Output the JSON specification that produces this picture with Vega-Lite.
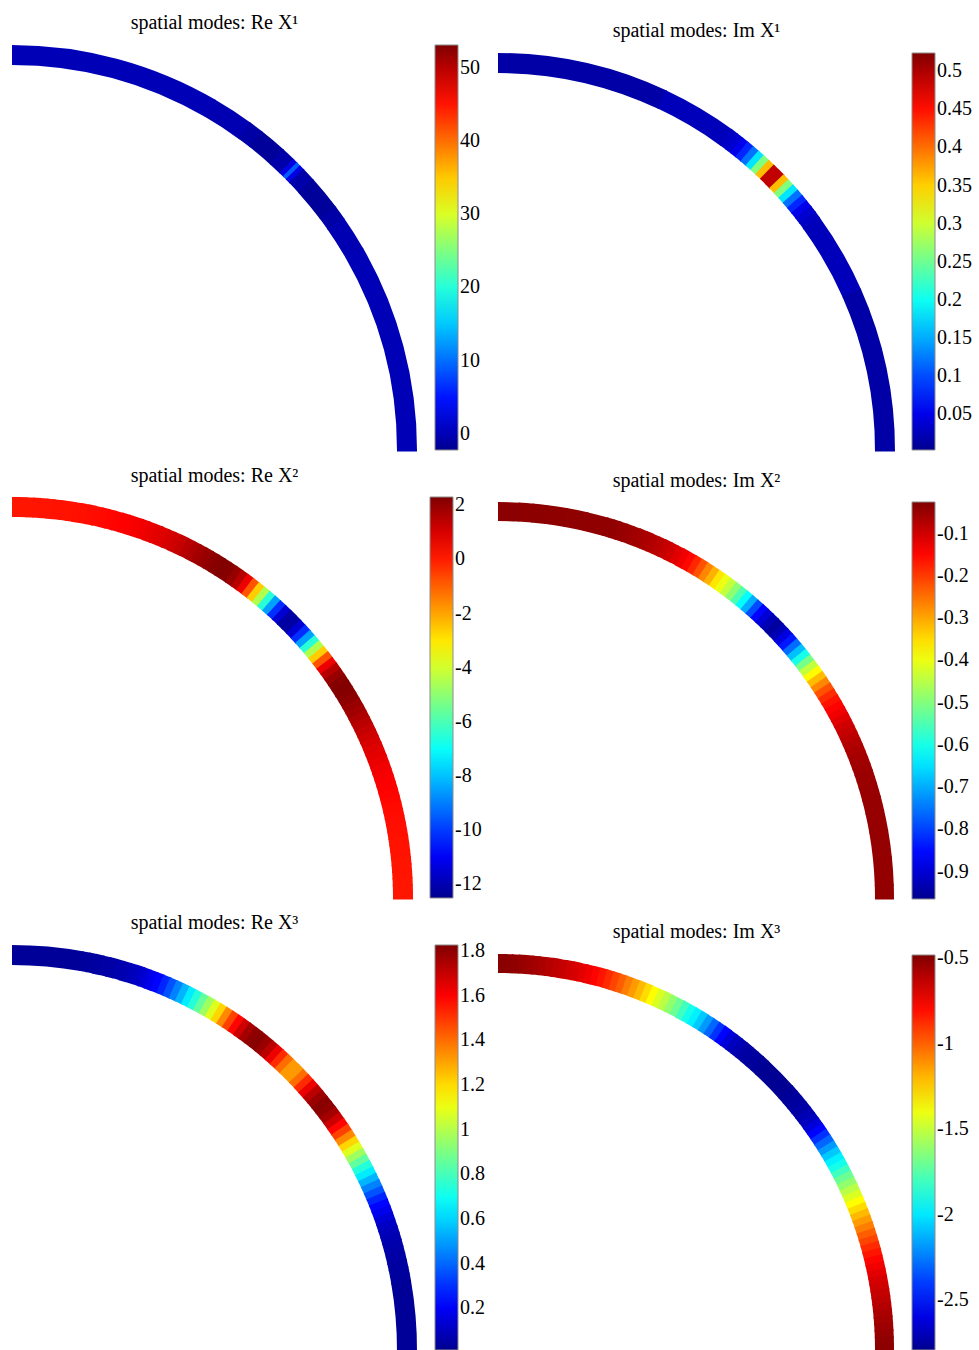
{
"$schema": "https://vega.github.io/schema/vega-lite/v6.json",
"background": "white",
"padding": {"left": 12, "top": 13, "right": 0, "bottom": 0},
"bounds": "flush",
"align": "each",
"columns": 2,
"spacing": {"row": 47, "column": 81},
"resolve": {"scale": {"color": "independent", "theta": "independent"}, "legend": {"color": "independent"}},
"config": {
 "view": {"stroke": null},
 "title": {"font": "Liberation Serif", "fontSize": 20, "fontWeight": "normal", "color": "black", "anchor": "middle", "frame": "group", "baseline": "alphabetic"},
 "legend": {"labelFont": "Liberation Serif", "labelFontSize": 20, "labelColor": "black", "labelOffset": 4, "labelOverlap": false, "gradientThickness": 23, "gradientStrokeColor": "#8c8c8c", "gradientStrokeWidth": 1, "padding": 0, "titleFontSize": 1}
},
"concat": [
 {"width": 405, "height": 405,
  "title": {"text": "spatial modes: Re X¹", "offset": 12},
  "data": {"values": [
   {"a":0,"b":30,"v":0},{"a":30,"b":36,"v":-0.3},{"a":36,"b":38,"v":-0.9},{"a":38,"b":42,"v":-1.6},{"a":42,"b":44,"v":-0.7},
   {"a":44,"b":44.7,"v":2.5},{"a":44.7,"b":45.3,"v":9},{"a":45.3,"b":46,"v":2.5},{"a":46,"b":48,"v":-0.7},{"a":48,"b":53,"v":-1.6},
   {"a":53,"b":55,"v":-0.9},{"a":55,"b":60,"v":-0.3},{"a":60,"b":90,"v":0}
  ]},
  "mark": {"type": "arc", "x": 0, "y": "height", "radius": 405, "radius2": 385, "theta2Offset": 0.004},
  "encoding": {
   "theta": {"field": "a", "type": "quantitative", "stack": null, "scale": {"domain": [0, 90], "range": [0, 1.5707963]}},
   "theta2": {"field": "b"},
   "color": {"field": "v", "type": "quantitative", "scale": {"type": "linear", "domain": [-2.2, 3.938, 17.98, 32.03, 46.08, 53.1], "range": ["#00008f","#0000ff","#00ffff","#ffff00","#ff0000","#800000"], "interpolate": "rgb", "nice": false, "zero": false, "clamp": true},
    "legend": {"type": "gradient", "title": null, "offset": 18, "gradientLength": 405, "values": [0,10,20,30,40,50], "labelExpr": "'' + datum.value"}}
  }},
 {"width": 397, "height": 405,
  "title": {"text": "spatial modes: Im X¹", "offset": 4},
  "data": {"values": [
   {"a":0,"b":25,"v":0.015},{"a":25,"b":36,"v":0.025},{"a":36,"b":37,"v":0.03},{"a":37,"b":38,"v":0.037},{"a":38,"b":39,"v":0.05},
   {"a":39,"b":40,"v":0.08},{"a":40,"b":41,"v":0.12},{"a":41,"b":42,"v":0.18},{"a":42,"b":43,"v":0.26},{"a":43,"b":44,"v":0.36},
   {"a":44,"b":45,"v":0.49},{"a":45,"b":46,"v":0.49},{"a":46,"b":47,"v":0.36},{"a":47,"b":48,"v":0.26},{"a":48,"b":49,"v":0.18},
   {"a":49,"b":50,"v":0.12},{"a":50,"b":51,"v":0.08},{"a":51,"b":52,"v":0.05},{"a":52,"b":53,"v":0.037},{"a":53,"b":54,"v":0.03},
   {"a":54,"b":66,"v":0.025},{"a":66,"b":90,"v":0.015}
  ]},
  "mark": {"type": "arc", "x": 0, "y": "height", "radius": 397, "radius2": 377, "theta2Offset": 0.004},
  "encoding": {
   "theta": {"field": "a", "type": "quantitative", "stack": null, "scale": {"domain": [0, 90], "range": [0, 1.5707963]}},
   "theta2": {"field": "b"},
   "color": {"field": "v", "type": "quantitative", "scale": {"type": "linear", "domain": [0.003, 0.0608, 0.1932, 0.3255, 0.4578, 0.524], "range": ["#00008f","#0000ff","#00ffff","#ffff00","#ff0000","#800000"], "interpolate": "rgb", "nice": false, "zero": false, "clamp": true},
    "legend": {"type": "gradient", "title": " ", "titlePadding": 7, "offset": 17, "gradientLength": 397, "values": [0.05,0.1,0.15,0.2,0.25,0.3,0.35,0.4,0.45,0.5], "labelExpr": "'' + datum.value"}}
  }},
 {"width": 405, "height": 401,
  "title": {"text": "spatial modes: Re X²", "offset": 11},
  "data": {"values": [
   {"a":0,"b":1,"v":0.1},{"a":1,"b":2,"v":0.1},{"a":2,"b":3,"v":0.11},{"a":3,"b":4,"v":0.12},{"a":4,"b":5,"v":0.12},
   {"a":5,"b":6,"v":0.13},{"a":6,"b":7,"v":0.14},{"a":7,"b":8,"v":0.15},{"a":8,"b":9,"v":0.16},{"a":9,"b":10,"v":0.18},
   {"a":10,"b":11,"v":0.2},{"a":11,"b":12,"v":0.23},{"a":12,"b":13,"v":0.26},{"a":13,"b":14,"v":0.29},{"a":14,"b":15,"v":0.33},
   {"a":15,"b":16,"v":0.38},{"a":16,"b":17,"v":0.43},{"a":17,"b":18,"v":0.49},{"a":18,"b":19,"v":0.56},{"a":19,"b":20,"v":0.64},
   {"a":20,"b":21,"v":0.72},{"a":21,"b":22,"v":0.8},{"a":22,"b":23,"v":0.9},{"a":23,"b":24,"v":1.02},{"a":24,"b":25,"v":1.15},
   {"a":25,"b":26,"v":1.3},{"a":26,"b":27,"v":1.45},{"a":27,"b":28,"v":1.62},{"a":28,"b":29,"v":1.8},{"a":29,"b":30,"v":1.95},
   {"a":30,"b":31,"v":2.1},{"a":31,"b":32,"v":2.2},{"a":32,"b":33,"v":2.25},{"a":33,"b":34,"v":2.2},{"a":34,"b":35,"v":1.95},
   {"a":35,"b":36,"v":1.5},{"a":36,"b":37,"v":0.7},{"a":37,"b":38,"v":-0.8},{"a":38,"b":39,"v":-2.6},{"a":39,"b":40,"v":-4.5},
   {"a":40,"b":41,"v":-6.5},{"a":41,"b":42,"v":-8.5},{"a":42,"b":43,"v":-10.2},{"a":43,"b":44,"v":-11.5},{"a":44,"b":45,"v":-12.2},
   {"a":45,"b":46,"v":-12.2},{"a":46,"b":47,"v":-11.5},{"a":47,"b":48,"v":-10.2},{"a":48,"b":49,"v":-8.5},{"a":49,"b":50,"v":-6.5},
   {"a":50,"b":51,"v":-4.5},{"a":51,"b":52,"v":-2.6},{"a":52,"b":53,"v":-0.8},{"a":53,"b":54,"v":0.7},{"a":54,"b":55,"v":1.5},
   {"a":55,"b":56,"v":1.95},{"a":56,"b":57,"v":2.2},{"a":57,"b":58,"v":2.25},{"a":58,"b":59,"v":2.2},{"a":59,"b":60,"v":2.1},
   {"a":60,"b":61,"v":1.95},{"a":61,"b":62,"v":1.8},{"a":62,"b":63,"v":1.62},{"a":63,"b":64,"v":1.45},{"a":64,"b":65,"v":1.3},
   {"a":65,"b":66,"v":1.15},{"a":66,"b":67,"v":1.02},{"a":67,"b":68,"v":0.9},{"a":68,"b":69,"v":0.8},{"a":69,"b":70,"v":0.72},
   {"a":70,"b":71,"v":0.64},{"a":71,"b":72,"v":0.56},{"a":72,"b":73,"v":0.49},{"a":73,"b":74,"v":0.43},{"a":74,"b":75,"v":0.38},
   {"a":75,"b":76,"v":0.33},{"a":76,"b":77,"v":0.29},{"a":77,"b":78,"v":0.26},{"a":78,"b":79,"v":0.23},{"a":79,"b":80,"v":0.2},
   {"a":80,"b":81,"v":0.18},{"a":81,"b":82,"v":0.16},{"a":82,"b":83,"v":0.15},{"a":83,"b":84,"v":0.14},{"a":84,"b":85,"v":0.13},
   {"a":85,"b":86,"v":0.12},{"a":86,"b":87,"v":0.12},{"a":87,"b":88,"v":0.11},{"a":88,"b":89,"v":0.1},{"a":89,"b":90,"v":0.1}
  ]},
  "mark": {"type": "arc", "x": 0, "y": "height", "radius": 401, "radius2": 381, "theta2Offset": 0.004},
  "encoding": {
   "theta": {"field": "a", "type": "quantitative", "stack": null, "scale": {"domain": [0, 90], "range": [0, 1.5707963]}},
   "theta2": {"field": "b"},
   "color": {"field": "v", "type": "quantitative", "scale": {"type": "linear", "domain": [-12.5, -10.857, -7.098, -3.339, 0.42, 2.3], "range": ["#00008f","#0000ff","#00ffff","#ffff00","#ff0000","#800000"], "interpolate": "rgb", "nice": false, "zero": false, "clamp": true},
    "legend": {"type": "gradient", "title": null, "offset": 13, "gradientLength": 401, "values": [2,0,-2,-4,-6,-8,-10,-12], "labelExpr": "'' + datum.value"}}
  }},
 {"width": 397, "height": 401,
  "title": {"text": "spatial modes: Im X²", "offset": 6},
  "data": {"values": [
   {"a":0,"b":3,"v":-0.035},{"a":3,"b":5,"v":-0.036},{"a":5,"b":7,"v":-0.037},{"a":7,"b":10,"v":-0.038},{"a":10,"b":13,"v":-0.039},
   {"a":13,"b":16,"v":-0.04},{"a":16,"b":17,"v":-0.041},{"a":17,"b":18,"v":-0.043},{"a":18,"b":19,"v":-0.046},{"a":19,"b":20,"v":-0.05},
   {"a":20,"b":21,"v":-0.055},{"a":21,"b":22,"v":-0.06},{"a":22,"b":23,"v":-0.065},{"a":23,"b":24,"v":-0.072},{"a":24,"b":25,"v":-0.08},
   {"a":25,"b":26,"v":-0.09},{"a":26,"b":27,"v":-0.1},{"a":27,"b":28,"v":-0.115},{"a":28,"b":29,"v":-0.13},{"a":29,"b":30,"v":-0.15},
   {"a":30,"b":31,"v":-0.18},{"a":31,"b":32,"v":-0.22},{"a":32,"b":33,"v":-0.27},{"a":33,"b":34,"v":-0.31},{"a":34,"b":35,"v":-0.36},
   {"a":35,"b":36,"v":-0.4},{"a":36,"b":37,"v":-0.44},{"a":37,"b":38,"v":-0.49},{"a":38,"b":39,"v":-0.55},{"a":39,"b":40,"v":-0.62},
   {"a":40,"b":41,"v":-0.7},{"a":41,"b":42,"v":-0.79},{"a":42,"b":43,"v":-0.86},{"a":43,"b":44,"v":-0.9},{"a":44,"b":45,"v":-0.93},
   {"a":45,"b":46,"v":-0.95},{"a":46,"b":47,"v":-0.93},{"a":47,"b":48,"v":-0.89},{"a":48,"b":49,"v":-0.84},{"a":49,"b":50,"v":-0.76},
   {"a":50,"b":51,"v":-0.68},{"a":51,"b":52,"v":-0.6},{"a":52,"b":53,"v":-0.51},{"a":53,"b":54,"v":-0.44},{"a":54,"b":55,"v":-0.38},
   {"a":55,"b":56,"v":-0.32},{"a":56,"b":57,"v":-0.27},{"a":57,"b":58,"v":-0.22},{"a":58,"b":59,"v":-0.185},{"a":59,"b":60,"v":-0.16},
   {"a":60,"b":61,"v":-0.145},{"a":61,"b":62,"v":-0.13},{"a":62,"b":63,"v":-0.115},{"a":63,"b":64,"v":-0.1},{"a":64,"b":65,"v":-0.09},
   {"a":65,"b":66,"v":-0.08},{"a":66,"b":67,"v":-0.072},{"a":67,"b":68,"v":-0.066},{"a":68,"b":69,"v":-0.06},{"a":69,"b":70,"v":-0.056},
   {"a":70,"b":71,"v":-0.052},{"a":71,"b":72,"v":-0.05},{"a":72,"b":73,"v":-0.049},{"a":73,"b":75,"v":-0.048},{"a":75,"b":77,"v":-0.047},
   {"a":77,"b":80,"v":-0.046},{"a":80,"b":84,"v":-0.045},{"a":84,"b":88,"v":-0.044},{"a":88,"b":90,"v":-0.043}
  ]},
  "mark": {"type": "arc", "x": 0, "y": "height", "radius": 396, "radius2": 377, "theta2Offset": 0.004},
  "encoding": {
   "theta": {"field": "a", "type": "quantitative", "stack": null, "scale": {"domain": [0, 90], "range": [0, 1.5707963]}},
   "theta2": {"field": "b"},
   "color": {"field": "v", "type": "quantitative", "scale": {"type": "linear", "domain": [-0.965, -0.8607, -0.6219, -0.3832, -0.1444, -0.025], "range": ["#00008f","#0000ff","#00ffff","#ffff00","#ff0000","#800000"], "interpolate": "rgb", "nice": false, "zero": false, "clamp": true},
    "legend": {"type": "gradient", "title": " ", "titlePadding": 4, "offset": 17, "gradientLength": 397, "values": [-0.1,-0.2,-0.3,-0.4,-0.5,-0.6,-0.7,-0.8,-0.9], "labelExpr": "'' + datum.value"}}
  }},
 {"width": 405, "height": 405,
  "title": {"text": "spatial modes: Re X³", "offset": 12},
  "data": {"values": [
   {"a":0,"b":10,"v":0.03},{"a":10,"b":11,"v":0.037},{"a":11,"b":12,"v":0.04},{"a":12,"b":13,"v":0.045},{"a":13,"b":14,"v":0.05},
   {"a":14,"b":15,"v":0.055},{"a":15,"b":16,"v":0.065},{"a":16,"b":17,"v":0.075},{"a":17,"b":18,"v":0.09},{"a":18,"b":19,"v":0.11},
   {"a":19,"b":20,"v":0.14},{"a":20,"b":21,"v":0.18},{"a":21,"b":22,"v":0.22},{"a":22,"b":23,"v":0.28},{"a":23,"b":24,"v":0.36},
   {"a":24,"b":25,"v":0.45},{"a":25,"b":26,"v":0.54},{"a":26,"b":27,"v":0.64},{"a":27,"b":28,"v":0.74},{"a":28,"b":29,"v":0.85},
   {"a":29,"b":30,"v":0.96},{"a":30,"b":31,"v":1.08},{"a":31,"b":32,"v":1.21},{"a":32,"b":33,"v":1.35},{"a":33,"b":34,"v":1.48},
   {"a":34,"b":35,"v":1.59},{"a":35,"b":36,"v":1.69},{"a":36,"b":37,"v":1.76},{"a":37,"b":38,"v":1.8},{"a":38,"b":39,"v":1.81},
   {"a":39,"b":40,"v":1.78},{"a":40,"b":41,"v":1.72},{"a":41,"b":42,"v":1.63},{"a":42,"b":43,"v":1.52},{"a":43,"b":44,"v":1.4},
   {"a":44,"b":45,"v":1.32},{"a":45,"b":46,"v":1.32},{"a":46,"b":47,"v":1.4},{"a":47,"b":48,"v":1.52},{"a":48,"b":49,"v":1.63},
   {"a":49,"b":50,"v":1.72},{"a":50,"b":51,"v":1.78},{"a":51,"b":52,"v":1.81},{"a":52,"b":53,"v":1.8},{"a":53,"b":54,"v":1.76},
   {"a":54,"b":55,"v":1.69},{"a":55,"b":56,"v":1.59},{"a":56,"b":57,"v":1.48},{"a":57,"b":58,"v":1.35},{"a":58,"b":59,"v":1.21},
   {"a":59,"b":60,"v":1.08},{"a":60,"b":61,"v":0.96},{"a":61,"b":62,"v":0.85},{"a":62,"b":63,"v":0.74},{"a":63,"b":64,"v":0.64},
   {"a":64,"b":65,"v":0.54},{"a":65,"b":66,"v":0.45},{"a":66,"b":67,"v":0.36},{"a":67,"b":68,"v":0.28},{"a":68,"b":69,"v":0.22},
   {"a":69,"b":70,"v":0.18},{"a":70,"b":71,"v":0.14},{"a":71,"b":72,"v":0.11},{"a":72,"b":73,"v":0.09},{"a":73,"b":74,"v":0.075},
   {"a":74,"b":75,"v":0.065},{"a":75,"b":76,"v":0.055},{"a":76,"b":77,"v":0.05},{"a":77,"b":78,"v":0.045},{"a":78,"b":79,"v":0.04},
   {"a":79,"b":80,"v":0.037},{"a":80,"b":90,"v":0.03}
  ]},
  "mark": {"type": "arc", "x": 0, "y": "height", "radius": 405, "radius2": 385, "theta2Offset": 0.004},
  "encoding": {
   "theta": {"field": "a", "type": "quantitative", "stack": null, "scale": {"domain": [0, 90], "range": [0, 1.5707963]}},
   "theta2": {"field": "b"},
   "color": {"field": "v", "type": "quantitative", "scale": {"type": "linear", "domain": [0.013, 0.2144, 0.6751, 1.1359, 1.5966, 1.827], "range": ["#00008f","#0000ff","#00ffff","#ffff00","#ff0000","#800000"], "interpolate": "rgb", "nice": false, "zero": false, "clamp": true},
    "legend": {"type": "gradient", "title": null, "offset": 18, "gradientLength": 405, "values": [0.2,0.4,0.6,0.8,1,1.2,1.4,1.6,1.8], "labelExpr": "'' + datum.value"}}
  }},
 {"width": 397, "height": 405,
  "title": {"text": "spatial modes: Im X³", "offset": 3},
  "data": {"values": [
   {"a":0,"b":1,"v":-0.5},{"a":1,"b":2,"v":-0.51},{"a":2,"b":3,"v":-0.52},{"a":3,"b":4,"v":-0.53},{"a":4,"b":5,"v":-0.545},
   {"a":5,"b":6,"v":-0.56},{"a":6,"b":7,"v":-0.58},{"a":7,"b":8,"v":-0.6},{"a":8,"b":9,"v":-0.62},{"a":9,"b":10,"v":-0.64},
   {"a":10,"b":11,"v":-0.66},{"a":11,"b":12,"v":-0.68},{"a":12,"b":13,"v":-0.71},{"a":13,"b":14,"v":-0.74},{"a":14,"b":15,"v":-0.78},
   {"a":15,"b":16,"v":-0.82},{"a":16,"b":17,"v":-0.87},{"a":17,"b":18,"v":-0.93},{"a":18,"b":19,"v":-0.99},{"a":19,"b":20,"v":-1.06},
   {"a":20,"b":21,"v":-1.13},{"a":21,"b":22,"v":-1.2},{"a":22,"b":23,"v":-1.28},{"a":23,"b":24,"v":-1.36},{"a":24,"b":25,"v":-1.44},
   {"a":25,"b":26,"v":-1.52},{"a":26,"b":27,"v":-1.61},{"a":27,"b":28,"v":-1.7},{"a":28,"b":29,"v":-1.8},{"a":29,"b":30,"v":-1.9},
   {"a":30,"b":31,"v":-1.98},{"a":31,"b":32,"v":-2.07},{"a":32,"b":33,"v":-2.18},{"a":33,"b":34,"v":-2.3},{"a":34,"b":35,"v":-2.42},
   {"a":35,"b":36,"v":-2.53},{"a":36,"b":37,"v":-2.62},{"a":37,"b":38,"v":-2.68},{"a":38,"b":39,"v":-2.71},{"a":39,"b":40,"v":-2.74},
   {"a":40,"b":41,"v":-2.75},{"a":41,"b":42,"v":-2.76},{"a":42,"b":43,"v":-2.77},{"a":43,"b":48,"v":-2.78},
   {"a":48,"b":49,"v":-2.77},{"a":49,"b":50,"v":-2.76},{"a":50,"b":51,"v":-2.75},{"a":51,"b":52,"v":-2.74},{"a":52,"b":53,"v":-2.71},
   {"a":53,"b":54,"v":-2.68},{"a":54,"b":55,"v":-2.62},{"a":55,"b":56,"v":-2.53},{"a":56,"b":57,"v":-2.42},{"a":57,"b":58,"v":-2.3},
   {"a":58,"b":59,"v":-2.18},{"a":59,"b":60,"v":-2.07},{"a":60,"b":61,"v":-1.98},{"a":61,"b":62,"v":-1.9},{"a":62,"b":63,"v":-1.8},
   {"a":63,"b":64,"v":-1.7},{"a":64,"b":65,"v":-1.61},{"a":65,"b":66,"v":-1.52},{"a":66,"b":67,"v":-1.44},{"a":67,"b":68,"v":-1.36},
   {"a":68,"b":69,"v":-1.28},{"a":69,"b":70,"v":-1.2},{"a":70,"b":71,"v":-1.13},{"a":71,"b":72,"v":-1.06},{"a":72,"b":73,"v":-0.99},
   {"a":73,"b":74,"v":-0.93},{"a":74,"b":75,"v":-0.87},{"a":75,"b":76,"v":-0.82},{"a":76,"b":77,"v":-0.78},{"a":77,"b":78,"v":-0.74},
   {"a":78,"b":79,"v":-0.71},{"a":79,"b":80,"v":-0.68},{"a":80,"b":81,"v":-0.66},{"a":81,"b":82,"v":-0.64},{"a":82,"b":83,"v":-0.62},
   {"a":83,"b":84,"v":-0.6},{"a":84,"b":85,"v":-0.58},{"a":85,"b":86,"v":-0.56},{"a":86,"b":87,"v":-0.545},{"a":87,"b":88,"v":-0.53},
   {"a":88,"b":89,"v":-0.52},{"a":89,"b":90,"v":-0.51}
  ]},
  "mark": {"type": "arc", "x": 0, "y": "height", "radius": 396, "radius2": 377, "theta2Offset": 0.004},
  "encoding": {
   "theta": {"field": "a", "type": "quantitative", "stack": null, "scale": {"domain": [0, 90], "range": [0, 1.5707963]}},
   "theta2": {"field": "b"},
   "color": {"field": "v", "type": "quantitative", "scale": {"type": "linear", "domain": [-2.79, -2.5336, -1.9469, -1.3601, -0.7734, -0.48], "range": ["#00008f","#0000ff","#00ffff","#ffff00","#ff0000","#800000"], "interpolate": "rgb", "nice": false, "zero": false, "clamp": true},
    "legend": {"type": "gradient", "title": " ", "titlePadding": 9, "offset": 17, "gradientLength": 395, "values": [-0.5,-1,-1.5,-2,-2.5], "labelExpr": "'' + datum.value"}}
  }}
]
}
